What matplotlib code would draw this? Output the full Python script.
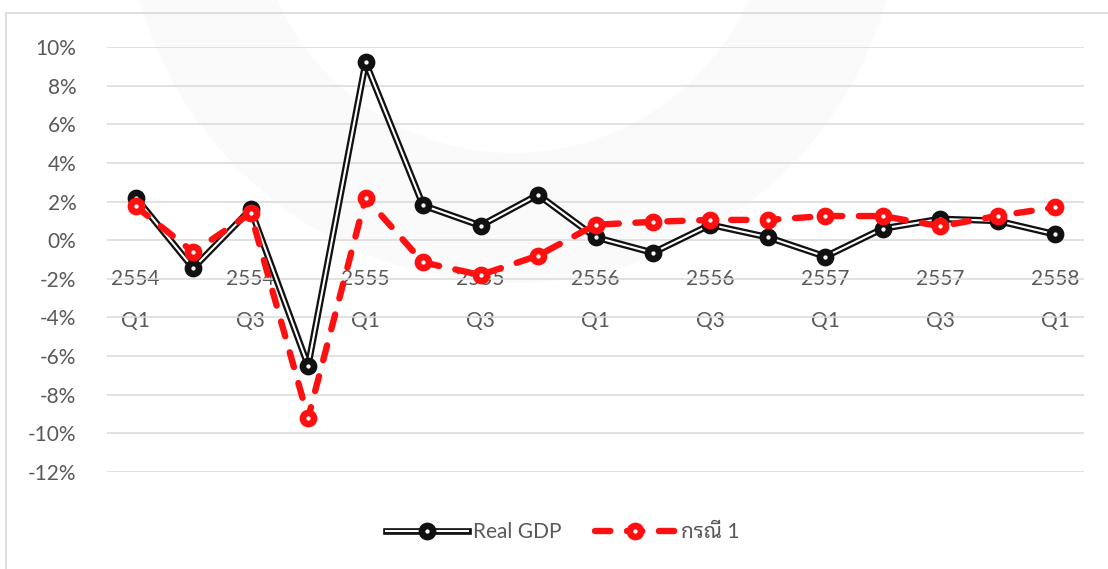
import matplotlib
matplotlib.use("Agg")
import matplotlib.pyplot as plt
from matplotlib.patches import Rectangle, Wedge
from matplotlib.legend_handler import HandlerTuple
import numpy as np

# Quarterly growth (%), 2554 Q1 - 2558 Q1
years = ["2554", "2554", "2554", "2554",
         "2555", "2555", "2555", "2555",
         "2556", "2556", "2556", "2556",
         "2557", "2557", "2557", "2557",
         "2558"]
quarters = ["Q1", "Q2", "Q3", "Q4"] * 4 + ["Q1"]
real_gdp = [2.2, -1.45, 1.6, -6.5, 9.2, 1.8, 0.75, 2.35,
            0.15, -0.65, 0.8, 0.15, -0.85, 0.6, 1.1, 1.0, 0.3]
case_1 = [1.75, -0.62, 1.4, -9.2, 2.2, -1.15, -1.8, -0.8,
          0.8, 0.95, 1.05, 1.05, 1.25, 1.25, 0.72, 1.26, 1.7]
series_names = ["Real GDP", "กรณี 1"]
y_ticks = list(range(-12, 11, 2))

W, H = 1108, 569
fig = plt.figure(figsize=(W / 100, H / 100), dpi=100)
fig.patch.set_facecolor("white")

FONT = ["Lato", "Noto Sans Thai Looped", "DejaVu Sans"]
GREY = "#595959"
RED = "#FF1010"

# faint seal in the page background
bg = fig.add_axes([0, 0, 1, 1], zorder=0)
bg.set_xlim(0, W)
bg.set_ylim(H, 0)
bg.axis("off")
bg.add_patch(Wedge((513, -105), 388, 0, 360, width=130,
                   facecolor="#FAFAFA", edgecolor="none"))

# chart-area border
fig.add_artist(Rectangle((6 / W, -0.2), 1.2, 1.2 - 13 / H,
                         transform=fig.transFigure, facecolor="none",
                         edgecolor="#D9D9D9", lw=1.2, zorder=1))

ax = fig.add_axes([107 / W, 1 - 472 / H, (1084 - 107) / W, (472 - 47) / H],
                  zorder=2)
ax.set_facecolor("none")
x = np.arange(len(real_gdp))
ax.set_xlim(-0.5, len(real_gdp) - 0.5)
ax.set_ylim(-12, 10)

ax.set_yticks(y_ticks)
ax.set_yticklabels([f"{v}%" for v in y_ticks], fontfamily=FONT, fontsize=15,
                   color=GREY)
ax.tick_params(axis="y", length=0, pad=22)
ax.set_xticks([])
ax.grid(axis="y", color="#D9D9D9", lw=1.1, zorder=0)
for s in ax.spines.values():
    s.set_visible(False)

# category labels sit just under the zero line
for i in range(0, len(years), 2):
    ax.annotate(years[i], (i, 0), xytext=(0, -28), textcoords="offset points",
                ha="center", va="center", fontfamily=FONT, fontsize=15,
                color=GREY, zorder=1)
    ax.annotate(quarters[i], (i, 0), xytext=(0, -58), textcoords="offset points",
                ha="center", va="center", fontfamily=FONT, fontsize=15,
                color=GREY, zorder=1)

# Real GDP: double line with ring markers
g_out, = ax.plot(x, real_gdp, color="#111111", lw=4.8, zorder=3)
g_in, = ax.plot(x, real_gdp, color="white", lw=1.5, zorder=3.1)
g_mk, = ax.plot(x, real_gdp, ls="none", marker="o", ms=8.0, mew=4.8,
                mfc="white", mec="#111111", zorder=3.2)

# Case 1: dashed red with ring markers
c_ln, = ax.plot(x, case_1, color=RED, lw=4.6, ls=(0, (2.4, 2.6)),
                dash_capstyle="round", zorder=4)
c_mk, = ax.plot(x, case_1, ls="none", marker="o", ms=8.0, mew=4.8,
                mfc="white", mec=RED, zorder=4.1)

leg = fig.legend([(g_out, g_in, g_mk), (c_ln, c_mk)], series_names,
                 handler_map={tuple: HandlerTuple(ndivide=1)},
                 loc="center", bbox_to_anchor=(563 / W, 1 - 532 / H), ncol=2,
                 frameon=False, handlelength=3.9, handletextpad=0.25,
                 columnspacing=1.6, prop={"family": FONT, "size": 15})
for t in leg.get_texts():
    t.set_color(GREY)

fig.savefig("out.png", dpi=100, facecolor="white")
